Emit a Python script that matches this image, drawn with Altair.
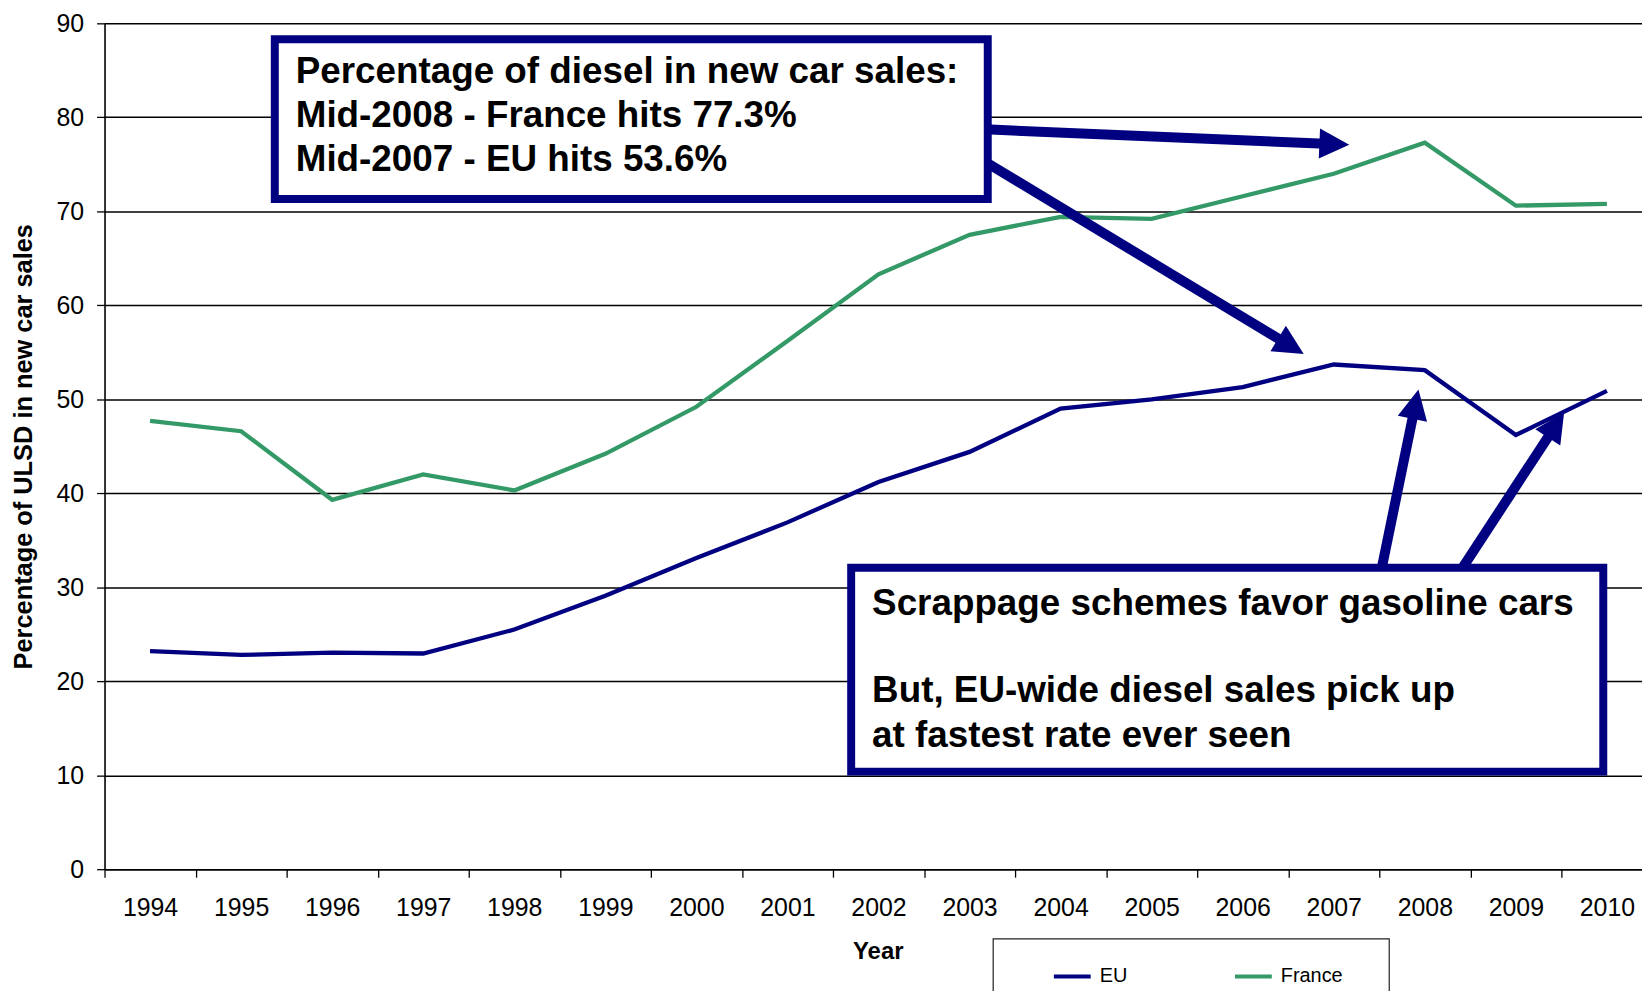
import math
import altair as alt
import pandas as pd

# ---------------- data ----------------
years = list(range(1994, 2011))
eu = [23.2, 22.8, 23.05, 22.95, 25.5, 29.1, 33.1, 36.9, 41.2, 44.4,
      49.0, 50.0, 51.3, 53.7, 53.1, 46.2, 50.9]
france = [47.7, 46.6, 39.3, 42.0, 40.3, 44.2, 49.2, 56.2, 63.3, 67.5,
          69.4, 69.2, 71.6, 74.0, 77.3, 70.6, 70.8]
series_names = ["EU", "France"]
series_colors = ["#000080", "#339966"]
y_ticks = list(range(0, 91, 10))

note1_lines = ["Percentage of diesel in new car sales:",
               "Mid-2008 - France hits 77.3%",
               "Mid-2007 - EU hits 53.6%"]
note2_lines = ["Scrappage schemes favor gasoline cars",
               "But, EU-wide diesel sales pick up",
               "at fastest rate ever seen"]

# annotation anchors, in data units (year, percent)
note1_box = [1995.37, 2003.20, 88.31, 71.31]   # x, x2, y, y2
note2_box = [2001.70, 2009.96, 32.08, 10.38]
note1_text_x = 1995.60
note1_text_y = [83.70, 78.95, 74.30]
note2_text_x = 2001.93
note2_text_y = [27.05, 17.75, 13.00]
arrow_start_x = [2003.17, 2003.17, 2007.53, 2008.40]
arrow_start_y = [78.72, 75.28, 32.19, 31.87]
arrow_tip_x = [2007.17, 2006.67, 2007.93, 2009.53]
arrow_tip_y = [77.08, 54.82, 51.04, 48.60]

# ---------------- layout ----------------
NAVY = "#000080"
FONT = "Liberation Sans"
BAND = 91.5                  # px per year
W = 1545
H = 850
XMIN = 1993.5
XMAX = XMIN + W / BAND
YMAX = 90

xscale = alt.Scale(domain=[XMIN, XMAX], nice=False, zero=False)
yscale = alt.Scale(domain=[0, YMAX], nice=False, zero=True)

x_axis = alt.Axis(
    values=[y - 0.5 for y in years],
    labelExpr="format(datum.value + 0.5, 'd')",
    labelOffset=BAND / 2,
    tickSize=8, tickColor="black", tickWidth=1.3,
    domainColor="black", domainWidth=1.6,
    labelFont=FONT, labelFontSize=25, labelColor="black", labelPadding=19,
    labelOverlap=False, labelFlush=False, labelBound=False,
    grid=False,
    title="Year", titleFont=FONT, titleFontSize=24, titleFontWeight="bold",
    titleColor="black", titleX=777, titleY=83, titleBaseline="middle",
    titleAlign="center",
)
y_axis = alt.Axis(
    values=y_ticks,
    tickSize=8, tickColor="black", tickWidth=1.3,
    domainColor="black", domainWidth=1.6,
    labelFont=FONT, labelFontSize=25, labelColor="black", labelPadding=13,
    grid=True, gridColor="#000000", gridWidth=1.5,
    title="Percentage of ULSD in new car sales", titleFont=FONT,
    titleFontSize=25.5, titleFontWeight="bold", titleColor="black",
    titleX=-81, titleY=H / 2, titleAngle=270, titleAlign="center",
    titleBaseline="middle",
)


def X(field):
    return alt.X(f"{field}:Q", scale=xscale, axis=x_axis)


def Y(field):
    return alt.Y(f"{field}:Q", scale=yscale, axis=y_axis)


def to_px(xd, yd):
    return (xd - XMIN) * BAND, H - yd * H / YMAX


def to_data(px, py):
    return XMIN + px / BAND, (H - py) * YMAX / H


# ---------------- tables ----------------
lines_df = pd.DataFrame({
    "year": years * 2,
    "value": eu + france,
    "series": ["EU"] * len(years) + ["France"] * len(years),
})

HEAD = 30
rows = []
for sx, sy, tx, ty in zip(arrow_start_x, arrow_start_y, arrow_tip_x, arrow_tip_y):
    p0 = to_px(sx, sy)
    p1 = to_px(tx, ty)
    dx, dy = p1[0] - p0[0], p1[1] - p0[1]
    ln = math.hypot(dx, dy)
    ux, uy = dx / ln, dy / ln
    ex, ey = to_data(p1[0] - ux * (HEAD - 6), p1[1] - uy * (HEAD - 6))
    ang = math.degrees(math.atan2(dx, -dy)) % 360
    rows.append({"x": sx, "y": sy, "x2": ex, "y2": ey,
                 "tx": tx, "ty": ty, "angle": ang})
arrows_df = pd.DataFrame(rows)

boxes_df = pd.DataFrame([
    {"x": note1_box[0], "x2": note1_box[1], "y": note1_box[2], "y2": note1_box[3]},
    {"x": note2_box[0], "x2": note2_box[1], "y": note2_box[2], "y2": note2_box[3]},
])

text_df = pd.DataFrame({
    "x": [note1_text_x] * 3 + [note2_text_x] * 3,
    "y": note1_text_y + note2_text_y,
    "text": note1_lines + note2_lines,
})

# ---------------- layers ----------------
lines = alt.Chart(lines_df).mark_line(strokeWidth=4.3).encode(
    x=X("year"),
    y=Y("value"),
    color=alt.Color(
        "series:N", title=None,
        scale=alt.Scale(domain=series_names, range=series_colors),
        legend=alt.Legend(
            orient="none", legendX=952, legendY=937, direction="horizontal",
            symbolType="stroke", symbolSize=1369, symbolStrokeWidth=4,
            labelFont=FONT, labelFontSize=20, labelColor="black",
            labelOffset=7, columnPadding=100, padding=0,
        ),
    ),
)

shafts = alt.Chart(arrows_df).mark_rule(color=NAVY, strokeWidth=10).encode(
    x=X("x"), y=Y("y"), x2="x2:Q", y2="y2:Q"
)

heads = alt.Chart(arrows_df).mark_point(
    shape="M0,0L-1,2L1,2Z", filled=True, size=HEAD * HEAD, color=NAVY,
    opacity=1, strokeWidth=0,
).encode(
    x=X("tx"), y=Y("ty"), angle=alt.Angle("angle:Q", scale=None)
)

boxes = alt.Chart(boxes_df).mark_rect(
    fill="white", stroke=NAVY, strokeWidth=8
).encode(x=X("x"), x2="x2:Q", y=Y("y"), y2="y2:Q")

texts = alt.Chart(text_df).mark_text(
    align="left", baseline="alphabetic", font=FONT, fontSize=37,
    fontWeight="bold", color="black",
).encode(x=X("x"), y=Y("y"), text="text:N")

legend_frame = alt.Chart(pd.DataFrame({"k": [0]})).mark_rect(
    filled=False, stroke="#222222", strokeWidth=1.2
).encode(
    x=alt.value(893), x2=alt.value(1291), y=alt.value(920), y2=alt.value(1010)
)

chart = alt.layer(lines, shafts, heads, boxes, texts, legend_frame).properties(
    width=W, height=H,
    background="white",
    autosize=alt.AutoSizeParams(type="none"),
    padding={"left": 97, "top": 13, "right": 0, "bottom": 120},
).configure_view(strokeWidth=0)

chart.save("out.html", embed_options={"renderer": "svg", "actions": False})
